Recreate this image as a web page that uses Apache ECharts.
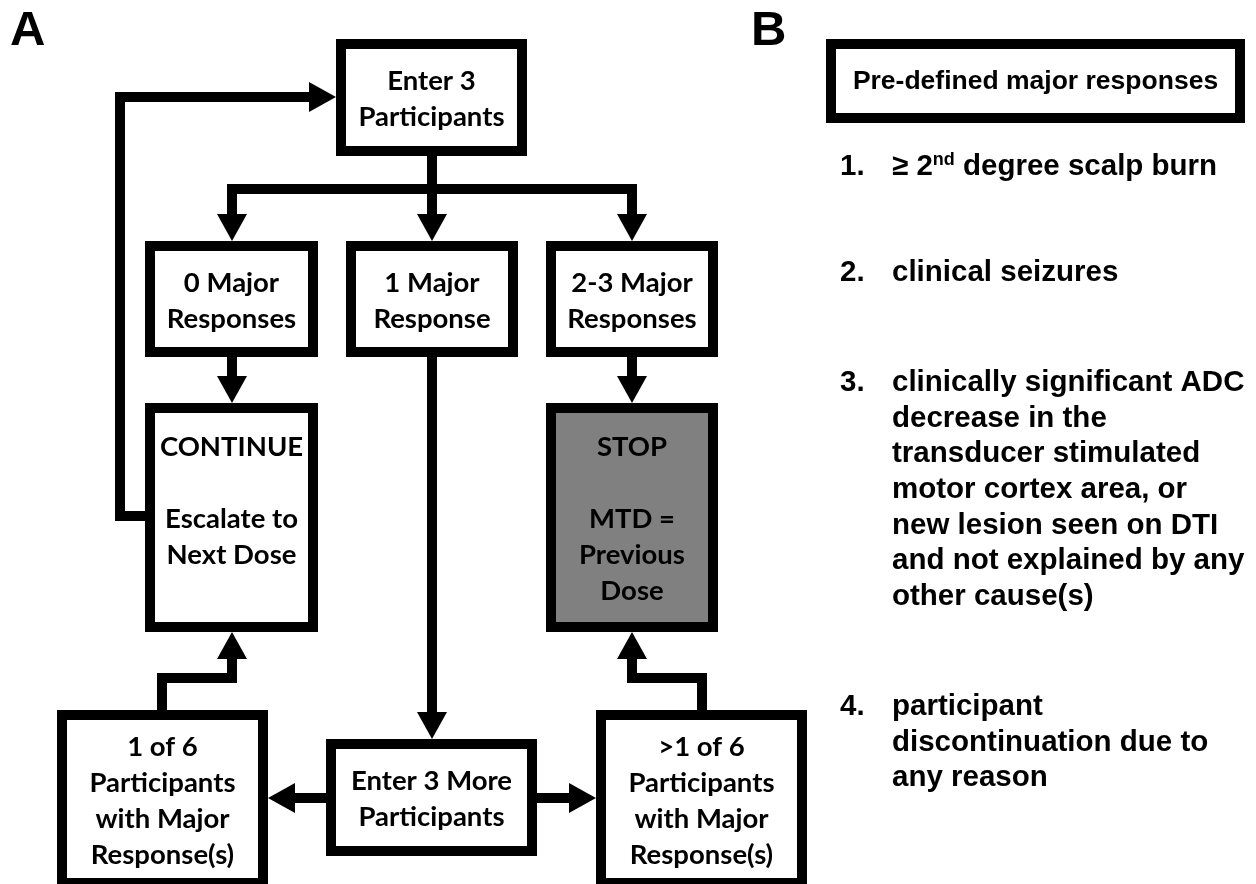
<!DOCTYPE html>
<html><head><meta charset="utf-8">
<script src="https://cdn.jsdelivr.net/npm/echarts@6/dist/echarts.min.js"></script>
<style>html,body{margin:0;padding:0;background:#fff}#c{width:1256px;height:884px}</style>
</head><body><div id="c"></div>
<script>
// ---------- data ----------
const nodeLabels = [
  'Enter 3\nParticipants',
  '0 Major\nResponses',
  '1 Major\nResponse',
  '2-3 Major\nResponses',
  'CONTINUE\n\nEscalate to\nNext Dose\n ',
  'STOP\n\nMTD =\nPrevious\nDose',
  '1 of 6\nParticipants\nwith Major\nResponse(s)',
  'Enter 3 More\nParticipants',
  '>1 of 6\nParticipants\nwith Major\nResponse(s)'
];
// node rectangles in diagram units [x0, y0, x1, y1]
const nodeBoxes = [
  [336, 39, 527, 156],
  [145, 241, 318, 357],
  [346, 241, 518, 357],
  [546, 241, 718, 357],
  [145, 403, 318, 632],
  [546, 403, 718, 632],
  [57, 710, 268, 888],
  [326, 739, 537, 856],
  [596, 710, 807, 888]
];
const nodeShaded = [false, false, false, false, false, true, false, false, false];
// connector paths in diagram units
const edgePaths = [
  [[145, 516], [120, 516], [120, 97], [336, 97]],
  [[432, 156], [432, 241]],
  [[232, 189], [632, 189]],
  [[232, 189], [232, 241]],
  [[632, 189], [632, 241]],
  [[232, 357], [232, 403]],
  [[632, 357], [632, 403]],
  [[432, 357], [432, 739]],
  [[326, 798], [268, 798]],
  [[537, 798], [596, 798]],
  [[162, 710], [162, 678], [232, 678], [232, 632]],
  [[702, 710], [702, 678], [632, 678], [632, 632]]
];
const edgeArrow = [true, true, false, true, true, true, true, true, true, true, true, true];

const panelLetters = ['A', 'B'];
const keyTitle = 'Pre-defined major responses';
const keyBox = [826, 39, 1245, 123];
const listNumbers = ['1.', '2.', '3.', '4.'];
const listItems = [
  '≥ 2{sup|nd} degree scalp burn',
  'clinical seizures',
  'clinically significant ADC\ndecrease in the\ntransducer stimulated\nmotor cortex area, or\nnew lesion seen on DTI\nand not explained by any\nother cause(s)',
  'participant\ndiscontinuation due to\nany reason'
];

// ---------- layout ----------
const layout = {
  letterPos: [[10, 31], [751, 31]],
  numberX: 840,
  itemX: 892,
  itemFirstLine: [167, 273, 383, 707],
  itemLineHeight: 35.6
};
const BW = 10, AL = 27, AW = 15;
const FLOW_FONT = 'Lato';

const chart = echarts.init(document.getElementById('c'), null, {renderer: 'canvas'});

function rectFrom(api, b) {
  const p0 = api.coord([b[0], b[1]]), p1 = api.coord([b[2], b[3]]);
  return {x: Math.min(p0[0], p1[0]), y: Math.min(p0[1], p1[1]),
          w: Math.abs(p1[0] - p0[0]), h: Math.abs(p1[1] - p0[1])};
}

function renderNode(params, api) {
  const i = params.dataIndex;
  const r = rectFrom(api, nodeBoxes[i]);
  return {type: 'group', children: [
    {type: 'rect', shape: {x: r.x + BW / 2, y: r.y + BW / 2, width: r.w - BW, height: r.h - BW},
     style: {fill: nodeShaded[i] ? '#808080' : '#ffffff', stroke: '#000', lineWidth: BW}},
    {type: 'text', x: r.x + r.w / 2, y: r.y + r.h / 2 + 2,
     style: {text: nodeLabels[i], fontFamily: FLOW_FONT, fontWeight: 'bold', fontSize: 27.5,
             lineHeight: 36, align: 'center', verticalAlign: 'middle', fill: '#000'}}
  ]};
}

function renderEdge(params, api) {
  const i = params.dataIndex;
  const pts = edgePaths[i].map(p => api.coord(p));
  const children = [];
  const line = pts.slice();
  if (edgeArrow[i]) {
    const n = pts.length, tip = pts[n - 1], prev = pts[n - 2];
    const dx = tip[0] - prev[0], dy = tip[1] - prev[1], L = Math.hypot(dx, dy);
    const ux = dx / L, uy = dy / L;
    const base = [tip[0] - ux * AL, tip[1] - uy * AL];
    line[n - 1] = base;
    children.push({type: 'polygon', shape: {points: [tip,
      [base[0] - uy * AW, base[1] + ux * AW], [base[0] + uy * AW, base[1] - ux * AW]]},
      style: {fill: '#000'}});
  }
  children.unshift({type: 'polyline', shape: {points: line},
    style: {stroke: '#000', lineWidth: BW, lineJoin: 'miter', lineCap: 'square', fill: null}});
  return {type: 'group', children};
}

function renderKey(params, api) {
  const children = [];
  const r = rectFrom(api, keyBox);
  children.push({type: 'rect', shape: {x: r.x + BW / 2, y: r.y + BW / 2, width: r.w - BW, height: r.h - BW},
    style: {fill: '#fff', stroke: '#000', lineWidth: BW}});
  children.push({type: 'text', x: r.x + r.w / 2, y: r.y + r.h / 2 + 1,
    style: {text: keyTitle, fontFamily: 'Liberation Sans, Arial', fontWeight: 'bold', fontSize: 26.5,
            align: 'center', verticalAlign: 'middle', fill: '#000'}});
  panelLetters.forEach((t, k) => {
    const p = api.coord(layout.letterPos[k]);
    children.push({type: 'text', x: p[0], y: p[1],
      style: {text: t, fontFamily: 'Liberation Sans, Arial', fontWeight: 'bold', fontSize: 49,
              align: 'left', verticalAlign: 'middle', fill: '#000'}});
  });
  listItems.forEach((t, k) => {
    const pn = api.coord([layout.numberX, layout.itemFirstLine[k]]);
    const pt = api.coord([layout.itemX, layout.itemFirstLine[k]]);
    const top = pt[1] - layout.itemLineHeight / 2;
    children.push({type: 'text', x: pn[0], y: top,
      style: {text: listNumbers[k], fontFamily: 'Liberation Sans, Arial', fontWeight: 'bold', fontSize: 29.5,
              lineHeight: layout.itemLineHeight, align: 'left', verticalAlign: 'top', fill: '#000'}});
    children.push({type: 'text', x: pt[0], y: top,
      style: {text: t, fontFamily: 'Liberation Sans, Arial', fontWeight: 'bold', fontSize: 29.5,
              lineHeight: layout.itemLineHeight, align: 'left', verticalAlign: 'top', fill: '#000',
              rich: {sup: {fontFamily: 'Liberation Sans, Arial', fontWeight: 'bold', fontSize: 18,
                           lineHeight: layout.itemLineHeight, verticalAlign: 'top', padding: [2, 0, 0, 0]}}}});
  });
  return {type: 'group', children};
}

chart.setOption({
  animation: false,
  backgroundColor: '#ffffff',
  grid: {left: 0, right: 0, top: 0, bottom: 0},
  xAxis: {type: 'value', min: 0, max: 1256, show: false},
  yAxis: {type: 'value', min: 0, max: 884, inverse: true, show: false},
  series: [
    {type: 'custom', name: 'edges', clip: false, silent: true, z: 1,
     data: edgePaths.map(p => p[0]), renderItem: renderEdge},
    {type: 'custom', name: 'nodes', clip: false, silent: true, z: 2,
     data: nodeBoxes.map(b => [(b[0] + b[2]) / 2, (b[1] + b[3]) / 2]), renderItem: renderNode},
    {type: 'custom', name: 'key', clip: false, silent: true, z: 3,
     data: [[(keyBox[0] + keyBox[2]) / 2, (keyBox[1] + keyBox[3]) / 2]], renderItem: renderKey}
  ]
});
</script></body></html>
